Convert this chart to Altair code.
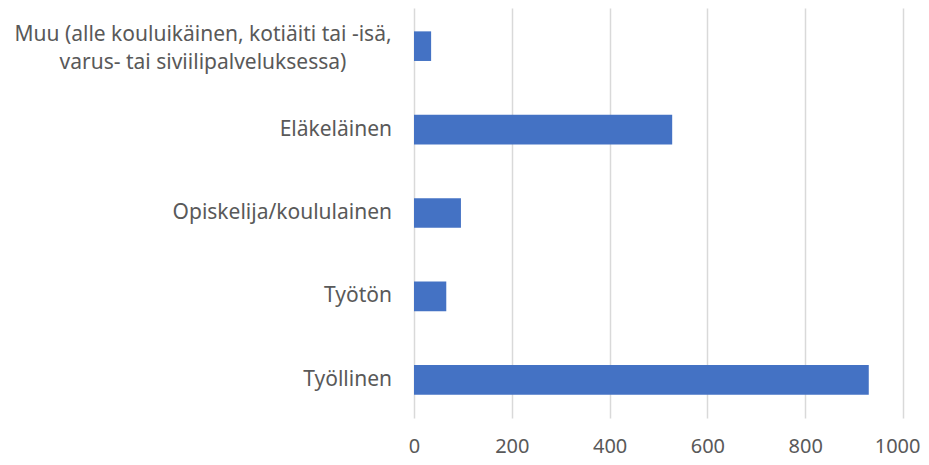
import altair as alt
import pandas as pd

categories = [
    "Muu (alle kouluikäinen, kotiäiti tai -isä,\nvarus- tai siviilipalveluksessa)",
    "Eläkeläinen",
    "Opiskelija/koululainen",
    "Työtön",
    "Työllinen",
]
values = [35, 528, 96, 66, 930]
x_ticks = [0, 200, 400, 600, 800, 1000]

df = pd.DataFrame({"cat": categories, "val": values})
df["multi"] = df["cat"].str.contains("\n")
df["lines"] = df["cat"].apply(lambda s: s.split("\n"))

FONT = "Noto Sans"
GREY = "#595959"

yscale = alt.Scale(domain=categories, paddingInner=0.645, paddingOuter=0.28)

base = alt.Chart(df)

bars = base.mark_bar(color="#4472C4").encode(
    x=alt.X(
        "val:Q",
        scale=alt.Scale(domain=[0, 1000], nice=False),
        axis=alt.Axis(
            values=x_ticks,
            format="d",
            title=None,
            grid=True,
            gridColor="#D9D9D9",
            gridWidth=1.5,
            domain=False,
            ticks=False,
            labelFont=FONT,
            labelFontSize=20,
            labelColor=GREY,
            labelPadding=18,
            labelFlush=False,
            labelAlign={"condition": {"test": "datum.value === 1000", "value": "right"}, "value": "center"},
            labelOffset={"condition": {"test": "datum.value === 1000", "value": 17}, "value": 0},
        ),
    ),
    y=alt.Y("cat:N", scale=yscale, sort=categories, axis=None),
)

single = base.transform_filter("!datum.multi").mark_text(
    align="right", baseline="middle", font=FONT, fontSize=21, color=GREY
).encode(
    y=alt.Y("cat:N", scale=yscale, sort=categories, axis=None),
    x=alt.value(-22),
    text="cat:N",
)

multi = base.transform_filter("datum.multi").mark_text(
    align="center", baseline="middle", font=FONT, fontSize=21, color=GREY,
    lineHeight=28, dy=-11,
).encode(
    y=alt.Y("cat:N", scale=yscale, sort=categories, axis=None),
    x=alt.value(-211),
    text="lines",
)

chart = alt.layer(bars, single, multi).properties(
    width=489,
    height=410,
    autosize=alt.AutoSizeParams(type="none"),
    padding={"left": 406, "top": 0, "right": 18, "bottom": 39},
).configure_view(stroke=None)

chart.save("out.html", embed_options={"renderer": "svg", "actions": False})
